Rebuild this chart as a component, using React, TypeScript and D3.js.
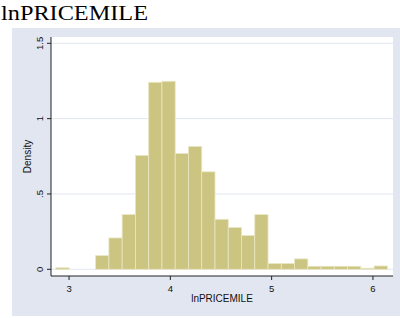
import * as d3 from 'd3';

// histogram of lnPRICEMILE, 25 bins
const binStart = 2.87;
const binWidth = 0.1309;
const density = [
  0.01, 0, 0, 0.091, 0.208, 0.363, 0.756, 1.241, 1.248, 0.769, 0.815, 0.647,
  0.332, 0.277, 0.224, 0.363, 0.038, 0.038, 0.069, 0.02, 0.02, 0.02, 0.02,
  0.007, 0.022,
];
const xTicks = [3, 4, 5, 6];
const yTicks = [0, 0.5, 1, 1.5];
const yTickLabels = ['0', '.5', '1', '1.5'];

const colors = {
  panel: '#E2E6F0',
  grid: '#E1E6F0',
  bar: '#CCC581',
  barLine: '#E9E6C3',
  axis: '#222',
};

const plot = { left: 51, right: 393, top: 37, bottom: 276 };

export default function App() {
  const x = d3.scaleLinear().domain([2.822, 6.198]).range([plot.left, plot.right]);
  const y = d3.scaleLinear().domain([0, 1.5]).range([269.3, 43.3]);

  const bins = density.map((d, i) => ({
    x0: binStart + i * binWidth,
    x1: binStart + (i + 1) * binWidth,
    d,
  }));

  const font = 'Liberation Sans, Arial, sans-serif';

  return (
    <svg
      width={400}
      height={318}
      style={{ position: 'absolute', left: 0, top: 0 }}
    >
      <rect width={400} height={318} fill="white" />
      <text
        x={1}
        y={19.5}
        fontFamily="Liberation Serif, Times New Roman, serif"
        fontSize={21}
        textLength={147}
        lengthAdjust="spacingAndGlyphs"
        fill="#000"
      >
        lnPRICEMILE
      </text>

      {/* graph region */}
      <rect x={12} y={28} width={388} height={288} fill={colors.panel} />
      <rect
        x={plot.left}
        y={plot.top}
        width={plot.right - plot.left}
        height={plot.bottom - plot.top}
        fill="white"
      />

      {/* gridlines */}
      {yTicks.map((t) => (
        <line
          key={t}
          x1={plot.left}
          x2={plot.right}
          y1={y(t)}
          y2={y(t)}
          stroke={colors.grid}
          strokeWidth={1}
        />
      ))}

      {/* bars */}
      {bins
        .filter((b) => b.d > 0)
        .map((b, i) => (
          <rect
            key={i}
            x={x(b.x0)}
            y={y(b.d)}
            width={x(b.x1) - x(b.x0)}
            height={y(0) - y(b.d)}
            fill={colors.bar}
            stroke={colors.barLine}
            strokeWidth={0.8}
          />
        ))}

      {/* y axis */}
      <line
        x1={plot.left}
        x2={plot.left}
        y1={plot.top}
        y2={plot.bottom}
        stroke={colors.axis}
        strokeWidth={1}
      />
      {yTicks.map((t, i) => (
        <g key={t}>
          <line
            x1={plot.left - 4}
            x2={plot.left}
            y1={y(t)}
            y2={y(t)}
            stroke={colors.axis}
          />
          <text
            transform={`translate(43,${y(t)}) rotate(-90)`}
            textAnchor="middle"
            fontFamily={font}
            fontSize={9.5}
            fill="#111"
          >
            {yTickLabels[i]}
          </text>
        </g>
      ))}
      <text
        transform={`translate(31,${(plot.top + plot.bottom) / 2}) rotate(-90)`}
        textAnchor="middle"
        fontFamily={font}
        fontSize={10}
        fill="#111"
      >
        Density
      </text>

      {/* x axis */}
      <line
        x1={plot.left}
        x2={plot.right}
        y1={plot.bottom}
        y2={plot.bottom}
        stroke={colors.axis}
        strokeWidth={1}
      />
      {xTicks.map((t) => (
        <g key={t}>
          <line
            x1={x(t)}
            x2={x(t)}
            y1={plot.bottom}
            y2={plot.bottom + 4}
            stroke={colors.axis}
          />
          <text
            x={x(t)}
            y={292}
            textAnchor="middle"
            fontFamily={font}
            fontSize={9.5}
            fill="#111"
          >
            {t}
          </text>
        </g>
      ))}
      <text
        x={(plot.left + plot.right) / 2}
        y={301.5}
        textAnchor="middle"
        fontFamily={font}
        fontSize={10}
        fill="#111"
      >
        lnPRICEMILE
      </text>
    </svg>
  );
}
